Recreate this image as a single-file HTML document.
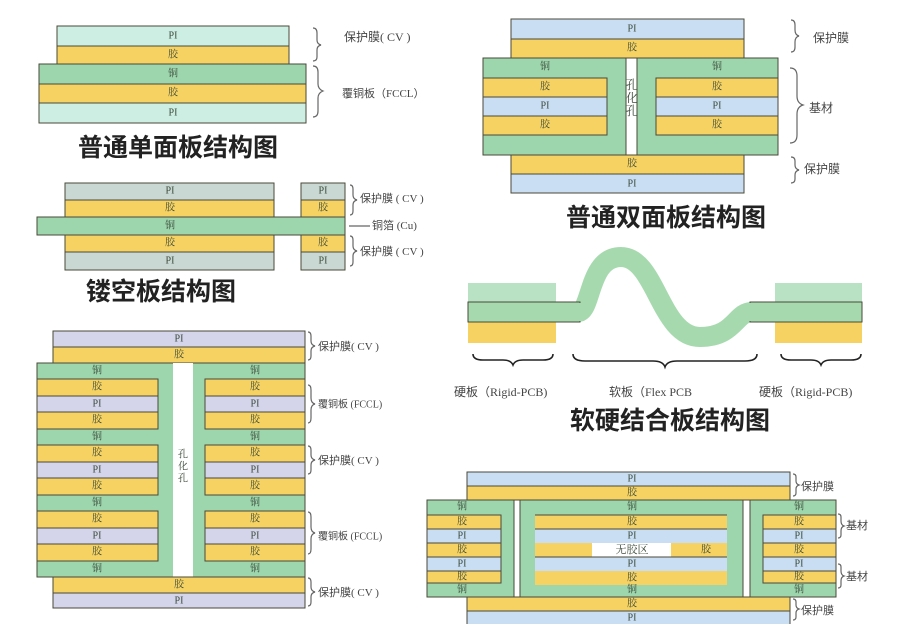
<!DOCTYPE html>
<html><head><meta charset="utf-8"><style>
html,body{margin:0;padding:0;background:#fff;width:916px;height:624px;overflow:hidden}
svg{display:block}
.l{font-family:"Liberation Serif","Noto Serif CJK SC",serif;font-size:10px;fill:#3b4a3a;text-anchor:middle;dominant-baseline:central}
.n{font-family:"Liberation Serif","Noto Sans CJK SC",serif;font-size:12px;fill:#444;dominant-baseline:central}
.t{font-family:"Liberation Sans","Noto Sans CJK SC",sans-serif;font-size:25px;font-weight:bold;fill:#222;dominant-baseline:central}
.b{fill:none;stroke:#666;stroke-width:1.2}
</style></head><body>
<svg width="916" height="624" viewBox="0 0 916 624" xmlns="http://www.w3.org/2000/svg">
<g stroke="#4a4a3a" stroke-width="1">
<!-- Diagram 1 -->
<rect x="57" y="26" width="232" height="20" fill="#cdeee3"/>
<rect x="57" y="46" width="232" height="18" fill="#f6d263"/>
<rect x="39" y="64" width="267" height="20" fill="#9dd6ad"/>
<rect x="39" y="84" width="267" height="19" fill="#f6d263"/>
<rect x="39" y="103" width="267" height="20" fill="#cdeee3"/>
<!-- Diagram 2 -->
<rect x="65" y="183" width="209" height="17" fill="#cad8d3"/>
<rect x="65" y="200" width="209" height="17" fill="#f6d263"/>
<rect x="37" y="217" width="308" height="18" fill="#9dd6ad"/>
<rect x="65" y="235" width="209" height="17" fill="#f6d263"/>
<rect x="65" y="252" width="209" height="18" fill="#cad8d3"/>
<rect x="301" y="183" width="44" height="17" fill="#cad8d3"/>
<rect x="301" y="200" width="44" height="17" fill="#f6d263"/>
<rect x="301" y="235" width="44" height="17" fill="#f6d263"/>
<rect x="301" y="252" width="44" height="18" fill="#cad8d3"/>
<!-- Diagram 3 -->
<rect x="53" y="331" width="252" height="16" fill="#d4d4ea"/>
<rect x="53" y="347" width="252" height="16" fill="#f6d263"/>
<rect x="37" y="363" width="268" height="214" fill="#9dd6ad"/>
<rect x="173" y="363" width="20" height="214" fill="#fff" stroke="none"/>
<g>
<rect x="37" y="379" width="121" height="17" fill="#f6d263"/><rect x="205" y="379" width="100" height="17" fill="#f6d263"/>
<rect x="37" y="396" width="121" height="16" fill="#d4d4ea"/><rect x="205" y="396" width="100" height="16" fill="#d4d4ea"/>
<rect x="37" y="412" width="121" height="17" fill="#f6d263"/><rect x="205" y="412" width="100" height="17" fill="#f6d263"/>
<rect x="37" y="445" width="121" height="17" fill="#f6d263"/><rect x="205" y="445" width="100" height="17" fill="#f6d263"/>
<rect x="37" y="462" width="121" height="16" fill="#d4d4ea"/><rect x="205" y="462" width="100" height="16" fill="#d4d4ea"/>
<rect x="37" y="478" width="121" height="17" fill="#f6d263"/><rect x="205" y="478" width="100" height="17" fill="#f6d263"/>
<rect x="37" y="511" width="121" height="17" fill="#f6d263"/><rect x="205" y="511" width="100" height="17" fill="#f6d263"/>
<rect x="37" y="528" width="121" height="16" fill="#d4d4ea"/><rect x="205" y="528" width="100" height="16" fill="#d4d4ea"/>
<rect x="37" y="544" width="121" height="17" fill="#f6d263"/><rect x="205" y="544" width="100" height="17" fill="#f6d263"/>
</g>
<rect x="53" y="577" width="252" height="16" fill="#f6d263"/>
<rect x="53" y="593" width="252" height="15" fill="#d4d4ea"/>
<!-- Diagram 4 -->
<rect x="511" y="19" width="233" height="20" fill="#c9def3"/>
<rect x="511" y="39" width="233" height="19" fill="#f6d263"/>
<rect x="483" y="58" width="295" height="97" fill="#9dd6ad"/>
<rect x="626" y="58" width="11" height="97" fill="#fff"/>
<rect x="483" y="78" width="124" height="19" fill="#f6d263"/><rect x="656" y="78" width="122" height="19" fill="#f6d263"/>
<rect x="483" y="97" width="124" height="19" fill="#c9def3"/><rect x="656" y="97" width="122" height="19" fill="#c9def3"/>
<rect x="483" y="116" width="124" height="19" fill="#f6d263"/><rect x="656" y="116" width="122" height="19" fill="#f6d263"/>
<rect x="511" y="155" width="233" height="19" fill="#f6d263"/>
<rect x="511" y="174" width="233" height="19" fill="#c9def3"/>
<!-- Diagram 5 -->
<rect x="468" y="283" width="88" height="19" fill="#b9e2c4" stroke="none"/>
<rect x="468" y="322" width="88" height="21" fill="#f6d263" stroke="none"/>
<rect x="775" y="283" width="87" height="19" fill="#b9e2c4" stroke="none"/>
<rect x="775" y="322" width="87" height="21" fill="#f6d263" stroke="none"/>
<path d="M556 312 H578 C592 312 588 257 621 257 C656 257 660 337 700 337 C735 337 735 312 752 312 H775" fill="none" stroke="#a6daae" stroke-width="20"/>
<rect x="468" y="302" width="112" height="20" fill="#a6daae"/>
<rect x="750" y="302" width="112" height="20" fill="#a6daae"/>
<rect x="576" y="303" width="8" height="18" fill="#a6daae" stroke="none"/>
<rect x="746" y="303" width="8" height="18" fill="#a6daae" stroke="none"/>
<!-- Diagram 6 -->
<rect x="467" y="472" width="323" height="14" fill="#c9def3"/>
<rect x="467" y="486" width="323" height="14" fill="#f6d263"/>
<rect x="427" y="500" width="87" height="97" fill="#9dd6ad"/>
<rect x="520" y="500" width="223" height="97" fill="#9dd6ad"/>
<rect x="750" y="500" width="86" height="97" fill="#9dd6ad"/>
<rect x="427" y="515" width="74" height="14" fill="#f6d263"/><rect x="763" y="515" width="73" height="14" fill="#f6d263"/>
<rect x="427" y="529" width="74" height="14" fill="#c9def3"/><rect x="763" y="529" width="73" height="14" fill="#c9def3"/>
<rect x="427" y="543" width="74" height="14" fill="#f6d263"/><rect x="763" y="543" width="73" height="14" fill="#f6d263"/>
<rect x="427" y="557" width="74" height="14" fill="#c9def3"/><rect x="763" y="557" width="73" height="14" fill="#c9def3"/>
<rect x="427" y="571" width="74" height="12" fill="#f6d263"/><rect x="763" y="571" width="73" height="12" fill="#f6d263"/>
<rect x="535" y="515" width="192" height="14" fill="#f6d263" stroke="none"/>
<rect x="535" y="529" width="192" height="14" fill="#c9def3" stroke="none"/>
<rect x="535" y="543" width="192" height="14" fill="#f6d263" stroke="none"/>
<rect x="592" y="543" width="79" height="14" fill="#fff" stroke="none"/>
<rect x="535" y="557" width="192" height="14" fill="#c9def3" stroke="none"/>
<rect x="535" y="571" width="192" height="14" fill="#f6d263" stroke="none"/>
<line x1="535" y1="515" x2="727" y2="515"/><line x1="535" y1="529" x2="727" y2="529"/><line x1="535" y1="557" x2="727" y2="557"/>
<rect x="467" y="597" width="323" height="14" fill="#f6d263"/>
<rect x="467" y="611" width="323" height="14" fill="#c9def3"/>
</g>

<!-- layer labels -->
<g class="l">
<text x="173" y="36">PI</text><text x="173" y="55">胶</text><text x="173" y="74">铜</text><text x="173" y="93">胶</text><text x="173" y="113">PI</text>
<text x="170" y="191">PI</text><text x="170" y="208">胶</text><text x="170" y="226">铜</text><text x="170" y="243">胶</text><text x="170" y="261">PI</text>
<text x="323" y="191">PI</text><text x="323" y="208">胶</text><text x="323" y="243">胶</text><text x="323" y="261">PI</text>
<text x="179" y="339">PI</text><text x="179" y="355">胶</text>
<text x="97" y="371">铜</text><text x="255" y="371">铜</text>
<text x="97" y="387">胶</text><text x="255" y="387">胶</text>
<text x="97" y="404">PI</text><text x="255" y="404">PI</text>
<text x="97" y="420">胶</text><text x="255" y="420">胶</text>
<text x="97" y="437">铜</text><text x="255" y="437">铜</text>
<text x="97" y="453">胶</text><text x="255" y="453">胶</text>
<text x="97" y="470">PI</text><text x="255" y="470">PI</text>
<text x="97" y="486">胶</text><text x="255" y="486">胶</text>
<text x="97" y="503">铜</text><text x="255" y="503">铜</text>
<text x="97" y="519">胶</text><text x="255" y="519">胶</text>
<text x="97" y="536">PI</text><text x="255" y="536">PI</text>
<text x="97" y="552">胶</text><text x="255" y="552">胶</text>
<text x="97" y="569">铜</text><text x="255" y="569">铜</text>
<text x="179" y="585">胶</text><text x="179" y="601">PI</text>
<text x="183" y="455">孔</text><text x="183" y="467">化</text><text x="183" y="479">孔</text>
<text x="632" y="29">PI</text><text x="632" y="48">胶</text>
<text x="545" y="67">铜</text><text x="717" y="67">铜</text>
<text x="545" y="87">胶</text><text x="717" y="87">胶</text>
<text x="545" y="106">PI</text><text x="717" y="106">PI</text>
<text x="545" y="125">胶</text><text x="717" y="125">胶</text>
<text x="632" y="164">胶</text><text x="632" y="184">PI</text>
<text x="632" y="85" style="font-size:12px">孔</text><text x="632" y="98" style="font-size:12px">化</text><text x="632" y="111" style="font-size:12px">孔</text>
<text x="632" y="479">PI</text><text x="632" y="493">胶</text>
<text x="462" y="507">铜</text><text x="632" y="507">铜</text><text x="799" y="507">铜</text>
<text x="462" y="522">胶</text><text x="632" y="522">胶</text><text x="799" y="522">胶</text>
<text x="462" y="536">PI</text><text x="632" y="536">PI</text><text x="799" y="536">PI</text>
<text x="462" y="550">胶</text><text x="632" y="550" style="font-size:11px">无胶区</text><text x="706" y="550">胶</text><text x="799" y="550">胶</text>
<text x="462" y="564">PI</text><text x="632" y="564">PI</text><text x="799" y="564">PI</text>
<text x="462" y="577">胶</text><text x="632" y="578">胶</text><text x="799" y="577">胶</text>
<text x="462" y="590">铜</text><text x="632" y="590">铜</text><text x="799" y="590">铜</text>
<text x="632" y="604">胶</text><text x="632" y="618">PI</text>
</g>

<!-- braces -->
<g class="b">
<path d="M313 28 q4 0 4 5 v7 q0 4 4 5 q-4 1 -4 5 v7 q0 4 -4 4"/>
<path d="M313 66 q5 0 5 6 v12 q0 5 5 7 q-5 2 -5 7 v13 q0 6 -5 6"/>
<path d="M350 185 q3 0 3 4 v6 q0 4 4 5 q-4 1 -4 5 v6 q0 4 -3 4"/>
<path d="M350 236 q3 0 3 4 v6 q0 4 4 5 q-4 1 -4 5 v6 q0 4 -3 4"/>
<line x1="349" y1="226" x2="370" y2="226"/>
<path d="M308 332 q3 0 3 4 v5 q0 4 4 5 q-4 1 -4 5 v5 q0 4 -3 4"/>
<path d="M308 385 q3 0 3 5 v8 q0 5 4 6 q-4 1 -4 6 v8 q0 5 -3 5"/>
<path d="M308 446 q3 0 3 4 v5 q0 4 4 5 q-4 1 -4 5 v5 q0 4 -3 4"/>
<path d="M308 512 q3 0 3 5 v10 q0 5 4 6 q-4 1 -4 6 v10 q0 5 -3 5"/>
<path d="M308 578 q3 0 3 4 v5 q0 4 4 5 q-4 1 -4 5 v5 q0 4 -3 4"/>
<path d="M791 20 q4 0 4 5 v5 q0 5 4 6 q-4 1 -4 6 v5 q0 5 -4 5"/>
<path d="M790 68 q7 0 7 8 v20 q0 7 6 9 q-6 2 -6 9 v21 q0 8 -7 8"/>
<path d="M791 157 q4 0 4 4 v4 q0 4 4 5 q-4 1 -4 5 v4 q0 4 -4 4"/>
<path d="M793 474 q3 0 3 3 v4 q0 3 3 4 q-3 1 -3 4 v4 q0 3 -3 3"/>
<path d="M838 514 q3 0 3 3 v4 q0 4 3 5 q-3 1 -3 5 v4 q0 3 -3 3"/>
<path d="M838 564 q3 0 3 3 v4 q0 4 3 5 q-3 1 -3 5 v4 q0 3 -3 3"/>
<path d="M793 599 q3 0 3 3 v3 q0 3 3 4 q-3 1 -3 4 v4 q0 3 -3 3"/>
<g stroke="#222" stroke-width="1.6">
<path d="M473 354 q0 6 10 6 h20 q8 0 10 5 q2 -5 10 -5 h20 q10 0 10 -6"/>
<path d="M573 354 q0 7 12 7 h68 q10 0 12 6 q2 -6 12 -6 h68 q12 0 12 -7"/>
<path d="M781 354 q0 6 10 6 h20 q8 0 10 5 q2 -5 10 -5 h20 q10 0 10 -6"/>
</g>
</g>

<!-- annotations -->
<g class="n">
<text x="344" y="37">保护膜( CV )</text>
<text x="342" y="94" style="font-size:11px">覆铜板（FCCL）</text>
<text x="360" y="199" style="font-size:11px">保护膜 ( CV )</text>
<text x="372" y="226" style="font-size:11px">铜箔 (Cu)</text>
<text x="360" y="252" style="font-size:11px">保护膜 ( CV )</text>
<text x="318" y="347" style="font-size:11px">保护膜( CV )</text>
<text x="318" y="405" style="font-size:10px">覆铜板 (FCCL)</text>
<text x="318" y="461" style="font-size:11px">保护膜( CV )</text>
<text x="318" y="537" style="font-size:10px">覆铜板 (FCCL)</text>
<text x="318" y="593" style="font-size:11px">保护膜( CV )</text>
<text x="813" y="38">保护膜</text>
<text x="809" y="108">基材</text>
<text x="804" y="169">保护膜</text>
<text x="454" y="392">硬板（Rigid-PCB)</text>
<text x="609" y="392">软板（Flex PCB</text>
<text x="759" y="392">硬板（Rigid-PCB)</text>
<text x="801" y="487" style="font-size:11px">保护膜</text>
<text x="846" y="526" style="font-size:11px">基材</text>
<text x="846" y="577" style="font-size:11px">基材</text>
<text x="801" y="611" style="font-size:11px">保护膜</text>
</g>

<!-- titles -->
<g class="t">
<text x="78" y="148">普通单面板结构图</text>
<text x="86" y="292">镂空板结构图</text>
<text x="566" y="218">普通双面板结构图</text>
<text x="570" y="421">软硬结合板结构图</text>
</g>
</svg>
</body></html>
